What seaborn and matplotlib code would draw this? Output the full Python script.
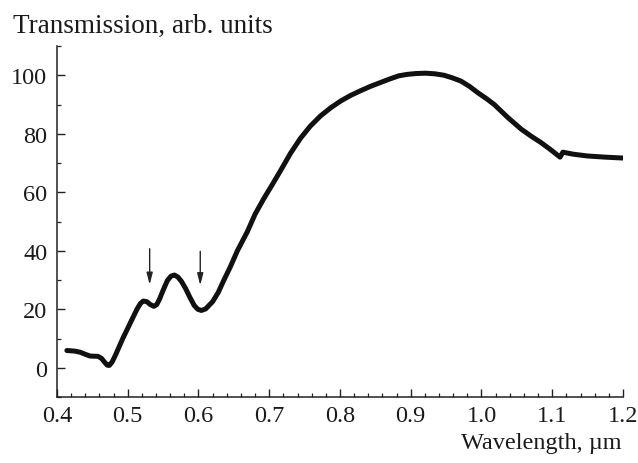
import matplotlib
matplotlib.use("Agg")
import matplotlib.pyplot as plt
from matplotlib.ticker import MultipleLocator, FormatStrFormatter
import seaborn as sns
import pandas as pd

wavelength = [0.414, 0.425, 0.433, 0.440, 0.447, 0.458, 0.463, 0.467, 0.471, 0.474,
              0.478, 0.483, 0.493, 0.503, 0.513, 0.518, 0.522, 0.527, 0.532, 0.537,
              0.541, 0.545, 0.550, 0.556, 0.561, 0.566, 0.571, 0.576, 0.582, 0.588,
              0.594, 0.599, 0.604, 0.610, 0.620, 0.628, 0.635, 0.645, 0.655, 0.669,
              0.680, 0.692, 0.704, 0.716, 0.730, 0.744, 0.758, 0.7725, 0.787, 0.801,
              0.815, 0.829, 0.843, 0.857, 0.870, 0.883, 0.895, 0.908, 0.921, 0.934,
              0.947, 0.959, 0.971, 0.983, 0.995, 1.007, 1.018, 1.037, 1.056, 1.070,
              1.084, 1.098, 1.111, 1.115, 1.130, 1.150, 1.175, 1.200]
transmission = [5.9, 5.7, 5.3, 4.6, 4.0, 3.9, 3.2, 2.0, 0.9, 0.8,
                2.0, 4.5, 10.0, 15.0, 20.0, 22.0, 22.8, 22.6, 21.6, 21.0,
                21.6, 23.5, 26.5, 29.8, 31.3, 31.7, 31.0, 29.5, 27.0, 24.0,
                21.3, 20.0, 19.6, 20.1, 22.6, 25.8, 29.5, 34.5, 40.0, 46.5,
                52.5, 57.7, 62.5, 67.4, 73.3, 78.4, 82.6, 86.1, 88.9, 91.2,
                93.1, 94.7, 96.2, 97.5, 98.7, 99.8, 100.3, 100.6, 100.7, 100.5,
                100.0, 99.1, 98.0, 96.2, 94.0, 92.0, 90.0, 85.6, 81.6, 79.2,
                77.0, 74.5, 72.0, 73.7, 73.0, 72.4, 72.0, 71.7]
arrow_x = [0.531, 0.6025]
arrow_top = [40.7, 39.8]
arrow_tip = [28.4, 28.2]

xticks = [0.4, 0.5, 0.6, 0.7, 0.8, 0.9, 1.0, 1.1, 1.2]
yticks = [0, 20, 40, 60, 80, 100]

df = pd.DataFrame({"Wavelength": wavelength, "Transmission": transmission})

sns.set_style("ticks")
plt.rcParams['font.family'] = ['Liberation Serif', 'DejaVu Serif']
plt.rcParams['mathtext.fontset'] = 'stix'

fig = plt.figure(figsize=(6.38, 4.64), dpi=100)
ax = fig.add_axes([0.0893, 0.1422, 0.8872, 0.7565])

sns.lineplot(data=df, x="Wavelength", y="Transmission", ax=ax, color="#111111",
             linewidth=3.6, sort=False, solid_capstyle="round", solid_joinstyle="round")

for xa, yt, yb in zip(arrow_x, arrow_top, arrow_tip):
    ax.annotate("", xy=(xa, yb), xytext=(xa, yt),
                arrowprops=dict(arrowstyle="-|>,head_length=0.7,head_width=0.18",
                                color="#222222", lw=1.0, shrinkA=0, shrinkB=0))

ax.set_xlim(0.4, 1.2)
ax.set_ylim(-10, 110)
ax.set_xticks(xticks)
ax.set_yticks(yticks)
ax.xaxis.set_major_formatter(FormatStrFormatter("%.1f"))
ax.xaxis.set_minor_locator(MultipleLocator(0.02))
ax.yaxis.set_minor_locator(MultipleLocator(10))

sns.despine(ax=ax)
for s in ["left", "bottom"]:
    ax.spines[s].set_linewidth(1.1)
    ax.spines[s].set_color("#222222")

ax.tick_params(which="major", direction="in", length=6, width=1.0, colors="#222222",
               labelsize=17.5, labelcolor="#1a1a1a", pad=6)
ax.tick_params(which="minor", direction="in", length=3.2, width=0.9, colors="#222222")
ax.tick_params(axis="y", which="major", pad=7)

ax.set_xlabel("")
ax.set_ylabel("")
fig.text(12.5 / 638, 1 - 33 / 464, "Transmission, arb. units", fontsize=19.5,
         ha="left", va="baseline", color="#1a1a1a")
fig.text(622 / 638, 1 - 449 / 464, "Wavelength, µm", fontsize=17.5,
         ha="right", va="baseline", color="#1a1a1a")

fig.savefig("out.png", dpi=100)
